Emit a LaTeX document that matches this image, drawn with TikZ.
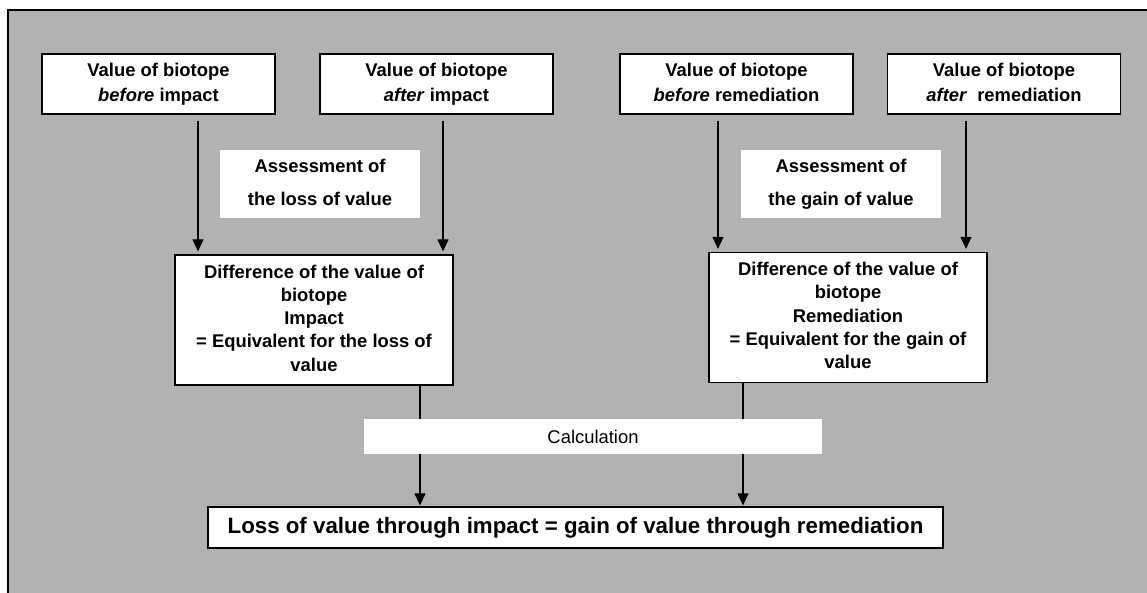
\documentclass[tikz,border=0pt]{standalone}
\usepackage{fontspec}
\setmainfont{Liberation Sans}
\usetikzlibrary{arrows.meta}

\definecolor{panelgray}{RGB}{178,178,178}
\newcommand{\topstrut}{\rule{0pt}{19.5pt}}
\newcommand{\botstrut}{\rule[-4pt]{0pt}{4pt}}

\tikzset{
  struts/.style={execute at begin node=\topstrut, execute at end node=\botstrut},
  valbox/.style={draw=black, line width=1.2pt, fill=white, minimum width=233, minimum height=60,
    inner sep=0pt, align=center, struts, font=\fontsize{18.4}{25}\selectfont\bfseries},
  assbox/.style={fill=white, minimum width=200, minimum height=68, inner sep=0pt,
    align=center, struts, font=\fontsize{18.4}{33}\selectfont\bfseries},
  diffbox/.style={draw=black, line width=1.2pt, fill=white, minimum width=278, minimum height=130,
    inner sep=0pt, align=center, struts, font=\fontsize{18.4}{23.3}\selectfont\bfseries},
  calcbox/.style={fill=white, minimum width=458, minimum height=35, inner sep=0pt,
    font=\fontsize{18.4}{22}\selectfont},
  resbox/.style={draw=black, line width=1.2pt, fill=white, minimum width=735, minimum height=41,
    inner sep=0pt, font=\fontsize{22.3}{26}\selectfont\bfseries},
  arr/.style={line width=1.1pt, -{Triangle[length=12pt,width=11pt]}}
}

\begin{document}
\begin{tikzpicture}[x=1pt,y=1pt,yscale=-1]
\useasboundingbox (0,0) rectangle (1147,593);

%Shape: background panel
\fill[panelgray] (8,10) rectangle (1150,596);
\draw[line width=1.3pt] (8,596) -- (8,10) -- (1150,10);

% Value boxes
\node[valbox] (befImp) at (158.5,84) {Value of biotope\\\textit{before} impact};
\node[valbox] (aftImp) at (436.5,84) {Value of biotope\\\textit{after} impact};
\node[valbox] (befRem) at (736.5,84) {Value of biotope\\\textit{before} remediation};
\node[valbox] (aftRem) at (1004,84) {Value of biotope\\\textit{after}\ \ remediation};

% Assessment labels
\node[assbox] (assLoss) at (320,184) {Assessment of\\the loss of value};
\node[assbox] (assGain) at (841,184) {Assessment of\\the gain of value};

% Difference boxes
\node[diffbox] (diffImp) at (314,320) {Difference of the value of\\biotope\\Impact\\= Equivalent for the loss of\\value};
\node[diffbox] (diffRem) at (848,317.5) {Difference of the value of\\biotope\\Remediation\\= Equivalent for the gain of\\value};

% Result box
\node[resbox] (result) at (575.5,527.5) {Loss of value through impact = gain of value through remediation};

%Straight Lines: values to differences
\draw[arr, shorten <=6pt, shorten >=3pt] ([xshift=39.5]befImp.south) -- ([xshift=39.5]befImp.south |- diffImp.north);
\draw[arr, shorten <=6pt, shorten >=3pt] ([xshift=6.5]aftImp.south) -- ([xshift=6.5]aftImp.south |- diffImp.north);
\draw[arr, shorten <=6pt, shorten >=3pt] ([xshift=-18.5]befRem.south) -- ([xshift=-18.5]befRem.south |- diffRem.north);
\draw[arr, shorten <=6pt, shorten >=3pt] ([xshift=-38]aftRem.south) -- ([xshift=-38]aftRem.south |- diffRem.north);

%Straight Lines: differences to result
\draw[arr, shorten >=1pt] ([xshift=106]diffImp.south) -- ([xshift=106]diffImp.south |- result.north);
\draw[arr, shorten >=1pt] ([xshift=-105]diffRem.south) -- ([xshift=-105]diffRem.south |- result.north);

% Calculation label (over the lines)
\node[calcbox] (calc) at (593,436.5) {Calculation};

\end{tikzpicture}
\end{document}
